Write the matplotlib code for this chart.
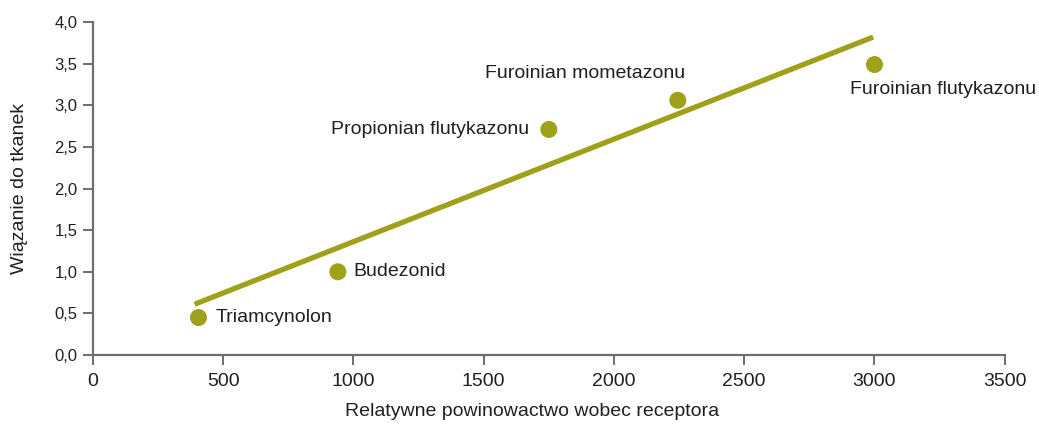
import matplotlib
matplotlib.use("Agg")
import matplotlib.pyplot as plt
import numpy as np

# data
names = ["Triamcynolon", "Budezonid", "Propionian flutykazonu",
         "Furoinian mometazonu", "Furoinian flutykazonu"]
affinity = [405, 940, 1750, 2245, 3000]
binding = [0.45, 1.0, 2.71, 3.06, 3.49]
trend_x = [390, 2995]
trend_y = [0.61, 3.82]

x_ticks = [0, 500, 1000, 1500, 2000, 2500, 3000, 3500]
y_ticks = [0.0, 0.5, 1.0, 1.5, 2.0, 2.5, 3.0, 3.5, 4.0]

olive = "#a0a11b"
axis_col = "#6d6e71"
text_col = "#231f20"

plt.rcParams["font.family"] = ["Liberation Sans", "DejaVu Sans"]

fig = plt.figure(figsize=(10.39, 4.25), dpi=100)
ax = fig.add_axes([0.0895, 0.1647, 0.8775, 0.7833])

ax.plot(trend_x, trend_y, color=olive, lw=3.8, solid_capstyle="butt", zorder=2)
ax.scatter(affinity, binding, s=150, color=olive, edgecolors="none", zorder=3)

# label offsets in pixels (dx, dy, ha)
offsets = [(17, 0, "left"), (16, 0, "left"), (-20, 0, "right"),
           (-93, 27, "center"), (69, -25, "center")]
for name, x, y, (dx, dy, ha) in zip(names, affinity, binding, offsets):
    ax.annotate(name, (x, y), xytext=(dx, dy), textcoords="offset pixels",
                ha=ha, va="center", fontsize=14, color=text_col)

ax.set_xlim(0, 3500)
ax.set_ylim(0, 4.0)
ax.set_xticks(x_ticks)
ax.set_xticklabels([str(t) for t in x_ticks], fontsize=14, color=text_col)
ax.set_yticks(y_ticks)
ax.set_yticklabels([f"{t:.1f}".replace(".", ",") for t in y_ticks],
                   fontsize=12, color=text_col)

for side in ["top", "right"]:
    ax.spines[side].set_visible(False)
for side in ["left", "bottom"]:
    ax.spines[side].set_color(axis_col)
    ax.spines[side].set_linewidth(1.6)
ax.tick_params(axis="both", colors=axis_col, width=1.4, length=7, direction="out")
ax.tick_params(axis="x", labelcolor=text_col, pad=6)
ax.tick_params(axis="y", labelcolor=text_col, pad=4)

ax.set_xlabel("Relatywne powinowactwo wobec receptora", fontsize=14,
              color=text_col)
ax.xaxis.set_label_coords(0.482, -0.145)
ax.set_ylabel("Wiązanie do tkanek", fontsize=14, color=text_col, labelpad=19)

fig.savefig("out.png", dpi=100)
